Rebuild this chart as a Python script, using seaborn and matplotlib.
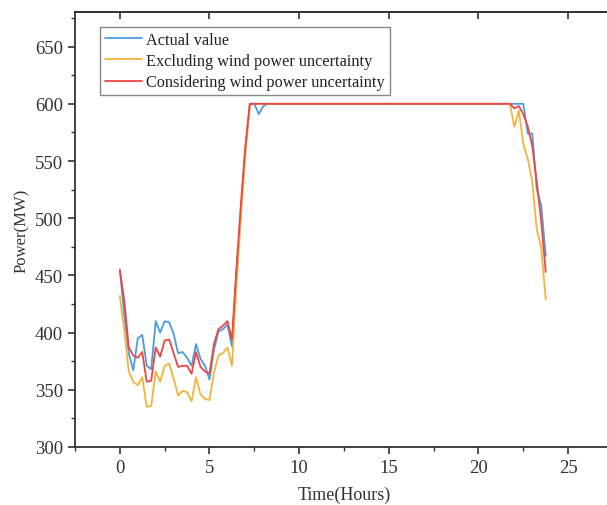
import numpy as np
import pandas as pd
import matplotlib
matplotlib.use("Agg")
import matplotlib.pyplot as plt
import seaborn as sns
from matplotlib.ticker import MultipleLocator

# ---- data (15-minute resolution, 96 points) ----
hours = np.arange(0, 24, 0.25)

actual_value = [
    455, 415, 382, 367, 395, 398, 371, 368, 410, 400, 410, 409,
    399, 382, 383, 378, 371, 390, 377, 371, 359, 385, 401, 403,
    407, 388, 452, 507, 560, 600, 600, 591, 598, 600, 600, 600,
    600, 600, 600, 600, 600, 600, 600, 600, 600, 600, 600, 600,
    600, 600, 600, 600, 600, 600, 600, 600, 600, 600, 600, 600,
    600, 600, 600, 600, 600, 600, 600, 600, 600, 600, 600, 600,
    600, 600, 600, 600, 600, 600, 600, 600, 600, 600, 600, 600,
    600, 600, 600, 600, 600, 600, 600, 574, 574, 525, 511, 467,
]

excluding_uncertainty = [
    432, 402, 366, 357, 354, 361, 335, 336, 366, 357, 371, 373,
    360, 345, 349, 348, 340, 361, 346, 342, 341, 365, 380, 382,
    387, 371, 440, 500, 555, 600, 600, 600, 600, 600, 600, 600,
    600, 600, 600, 600, 600, 600, 600, 600, 600, 600, 600, 600,
    600, 600, 600, 600, 600, 600, 600, 600, 600, 600, 600, 600,
    600, 600, 600, 600, 600, 600, 600, 600, 600, 600, 600, 600,
    600, 600, 600, 600, 600, 600, 600, 600, 600, 600, 600, 600,
    600, 600, 600, 600, 580, 594, 565, 552, 532, 490, 474, 429,
]

considering_uncertainty = [
    455, 428, 387, 380, 378, 383, 357, 358, 387, 379, 393, 394,
    382, 370, 371, 371, 364, 383, 370, 366, 364, 390, 403, 406,
    410, 394, 455, 512, 563, 600, 600, 600, 600, 600, 600, 600,
    600, 600, 600, 600, 600, 600, 600, 600, 600, 600, 600, 600,
    600, 600, 600, 600, 600, 600, 600, 600, 600, 600, 600, 600,
    600, 600, 600, 600, 600, 600, 600, 600, 600, 600, 600, 600,
    600, 600, 600, 600, 600, 600, 600, 600, 600, 600, 600, 600,
    600, 600, 600, 600, 596, 598, 591, 580, 563, 532, 497, 453,
]

series_names = ["Actual value",
                "Excluding wind power uncertainty",
                "Considering wind power uncertainty"]
series_colors = ["#4a9de0", "#f2b43c", "#ee4545"]

x_ticks = [0, 5, 10, 15, 20, 25]
y_ticks = [300, 350, 400, 450, 500, 550, 600, 650]

df = pd.DataFrame({
    "Time": np.concatenate([hours, hours, hours]),
    "Power": np.concatenate([actual_value, excluding_uncertainty, considering_uncertainty]),
    "Series": np.repeat(series_names, len(hours)),
})

# ---- style ----
sns.set_style("ticks")
plt.rcParams["font.family"] = ["Liberation Serif", "DejaVu Serif"]
plt.rcParams["axes.edgecolor"] = "#333333"
plt.rcParams["xtick.color"] = "#333333"
plt.rcParams["ytick.color"] = "#333333"

fig = plt.figure(figsize=(6.07, 5.06), dpi=100)
ax = fig.add_axes([75 / 607, 1 - 448 / 506, 538 / 607, (448 - 13.3) / 506])

sns.lineplot(data=df, x="Time", y="Power", hue="Series", hue_order=series_names,
             palette=series_colors, linewidth=1.3, ax=ax, legend=True)

ax.set_xlim(-2.5, 27.5)
ax.set_ylim(300, 680)
ax.set_xticks(x_ticks)
ax.set_yticks(y_ticks)
ax.xaxis.set_minor_locator(MultipleLocator(2.5))
ax.yaxis.set_minor_locator(MultipleLocator(25))
ax.tick_params(axis="both", which="major", direction="out", length=5, width=1.2,
               labelsize=13.5, labelcolor="#333333")
ax.tick_params(axis="both", which="minor", direction="out", length=3, width=1.0)

for side in ["left", "bottom", "top"]:
    ax.spines[side].set_linewidth(1.3)
    ax.spines[side].set_visible(True)
ax.spines["right"].set_visible(False)

top = ax.secondary_xaxis("top")
top.set_xticks(x_ticks)
top.tick_params(direction="in", length=5, width=1.2, labeltop=False)
top.spines["top"].set_linewidth(1.3)

ax.set_xlabel("Time(Hours)", fontsize=13, color="#333333", labelpad=7)
ax.set_ylabel("Power(MW)", fontsize=12, color="#333333", labelpad=4)

handles, labels = ax.get_legend_handles_labels()
leg = ax.legend(handles, labels, loc="upper left", bbox_to_anchor=(0.0465, 0.966),
                borderaxespad=0, fontsize=11.7, frameon=True, fancybox=False,
                edgecolor="#888888", framealpha=1, handlelength=2.3,
                handletextpad=0.25, labelspacing=0.32, borderpad=0.3)
leg.get_frame().set_linewidth(1.0)
for t in leg.get_texts():
    t.set_color("#222222")

fig.savefig("out.png", dpi=100)
